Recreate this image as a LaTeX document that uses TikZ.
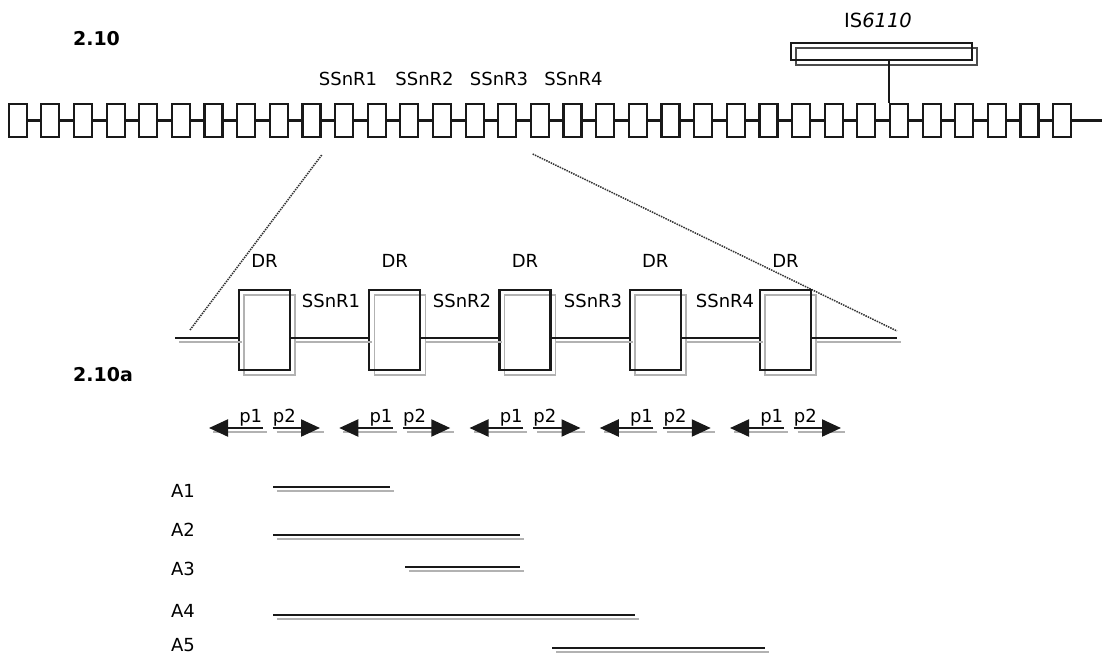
\documentclass[tikz,border=0pt]{standalone}
\usepackage{fontspec}
\setmainfont{DejaVu Sans}
\usetikzlibrary{arrows.meta, shadows}

\begin{document}
\begin{tikzpicture}[x=1pt, y=-1pt,
        ink/.style={draw=black!90, line width=2.2pt},
        dline/.style={draw=black!90, line width=2.2pt,
                      preaction={draw=gray!60, line width=1.5pt, arrows=-,
                                 transform canvas={xshift=4pt, yshift=-4pt}}},
        lbl/.style={font=\fontsize{18}{21}\selectfont, text=black, inner sep=0pt},
        fig/.style={font=\fontsize{19}{21}\selectfont\bfseries, inner sep=0pt},
        unit/.style={draw=black!90, line width=2.2pt, minimum width=18pt,
                     minimum height=33pt, inner sep=0pt},
        drbox/.style={draw=black!90, line width=2.2pt, minimum width=51pt,
                      minimum height=80pt, inner sep=0pt,
                      copy shadow={shadow xshift=5pt, shadow yshift=-5pt,
                                   draw=gray!60, fill=none, line width=1.5pt}},
        isbox/.style={draw=black!90, line width=2.2pt, minimum width=181pt,
                      minimum height=17pt, inner sep=0pt,
                      copy shadow={shadow xshift=5pt, shadow yshift=-5pt,
                                   draw=black!70, fill=none, line width=1.6pt}},
        zoomline/.style={densely dotted, line width=1.5pt, black!80},
        tip/.style={-{Triangle[length=19pt, width=17pt]}}
    ]
    \useasboundingbox (0,0) rectangle (1102,655);

    % whole locus
    \node[fig] (f210) at (96.5,39) {2.10};
    \foreach \i in {0,...,32}
        \node[unit] (u\i) at ({17.7+32.64*\i},120.5) {};
    \foreach \i [remember=\i as \k (initially 0)] in {1,...,32}
        \draw[ink] (u\k.east) -- (u\i.west);
    \coordinate (tail) at (1102,120.5);
    \draw[ink] (u32.east) -- (tail);

    \foreach \n/\x in {1/348, 2/424.5, 3/499, 4/573.5}
        \node[lbl] (top\n) at (\x,79) {SSnR\n};

    % insertion element
    \node[isbox] (is) at (881.2,51.5) {};
    \node[lbl, font=\fontsize{19.5}{22}\selectfont] (istxt) at (878,20) {IS\textit{6110}};
    \draw[ink] (is.south -| u27.north west) -- (u27.north west);

    % zoom lines
    \coordinate (zl1) at (321.7,155);
    \coordinate (zl2) at (190,330);
    \coordinate (zr1) at (532.7,154);
    \coordinate (zr2) at (897,331);
    \draw[zoomline] (zl1) -- (zl2);
    \draw[zoomline] (zr1) -- (zr2);

    % enlarged region
    \node[fig] (f210a) at (103,375) {2.10a};
    \foreach \i in {1,...,5} {
        \node[drbox] (dr\i) at ({264.5+130.25*(\i-1)},330) {};
        \node[lbl] (drl\i) at (dr\i.north |- 0,261) {DR};
    }
    \coordinate (bl) at (175,338);
    \coordinate (br) at (897,338);
    \draw[dline] (bl) -- (dr1.west |- bl);
    \foreach \i [remember=\i as \k (initially 1)] in {2,...,5}
        \draw[dline] (dr\k.east |- bl) -- (dr\i.west |- bl);
    \draw[dline] (dr5.east |- bl) -- (br);
    \foreach \n/\x in {1/331, 2/462, 3/593, 4/725}
        \node[lbl] (mid\n) at (\x,301) {SSnR\n};

    % primers
    \foreach \i in {1,...,5} {
        \coordinate (ar\i) at (dr\i.center |- 0,428);
        \draw[dline, tip] ([xshift=-2pt]ar\i) --
            node[lbl, above=1pt, pos=0.22] (pl\i) {p1} ([xshift=-55.5pt]ar\i);
        \draw[dline, tip] ([xshift=8pt]ar\i) --
            node[lbl, above=1pt, pos=0.25] (pr\i) {p2} ([xshift=55.5pt]ar\i);
    }

    % amplicons
    \foreach \n/\ty/\ly/\xa/\xb in {1/491/487/273/390, 2/530/535/273/520,
                                    3/569/567/405/520, 4/611/615/273/635,
                                    5/645/648/552/765} {
        \node[lbl] (A\n) at (183,\ty) {A\n};
        \coordinate (s\n) at (\xa,\ly);
        \coordinate (e\n) at (\xb,\ly);
        \draw[dline] (s\n) -- (e\n);
    }
\end{tikzpicture}
\end{document}
